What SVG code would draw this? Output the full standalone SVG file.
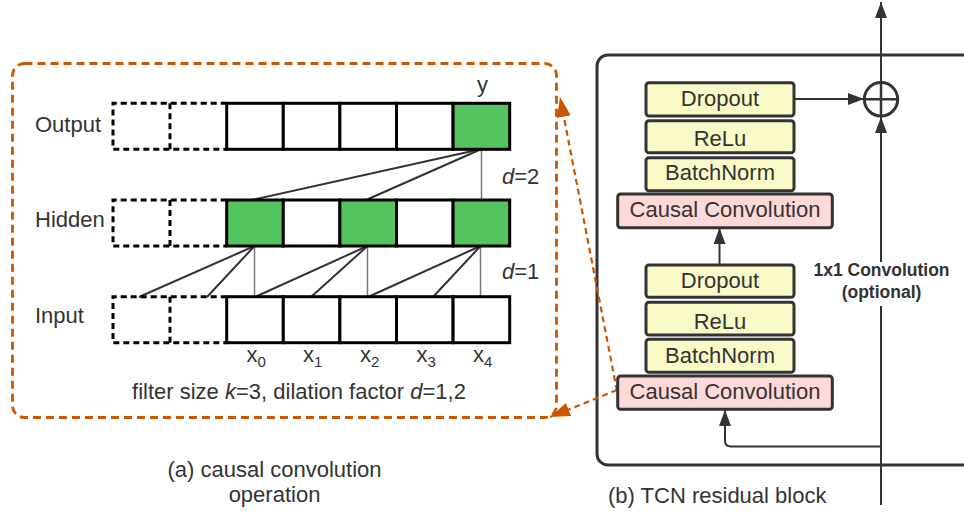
<svg xmlns="http://www.w3.org/2000/svg" width="964" height="515" viewBox="0 0 964 515">
<defs>
<style>
text{font-family:"Liberation Sans",Arial,sans-serif;font-size:22px;fill:#333}
.cell{fill:#fff;stroke:#000;stroke-width:3}
.g{fill:#54c45e}
.dash{fill:none;stroke:#000;stroke-width:3;stroke-dasharray:6,4}
.ln{stroke:#333;stroke-width:2;fill:none}
.vl{stroke:#777;stroke-width:1.5}
.yb{fill:#fafac8;stroke:#333;stroke-width:3}
.pb{fill:#ffd8d8;stroke:#333;stroke-width:3}
.ar{stroke:#333;stroke-width:2;fill:none}
.or{stroke:#cc5500;stroke-width:2.2;fill:none;stroke-dasharray:6,4}
.hd{fill:#333}
</style>
<marker id="ah" viewBox="0 0 16 12" refX="16" refY="6" markerWidth="16" markerHeight="12" markerUnits="userSpaceOnUse" orient="auto"><path d="M0,0 L16,6 L0,12 Z" class="hd"/></marker>
<marker id="oh" viewBox="0 0 20 14" refX="20" refY="7" markerWidth="20" markerHeight="14" markerUnits="userSpaceOnUse" orient="auto"><path d="M0,0 L20,7 L0,14 Z" fill="#cc5500"/></marker>
</defs>

<!-- (a) frame -->
<g id="frameA">
<rect x="12.5" y="63.5" width="544" height="354" rx="12" fill="none" stroke="#cc5500" stroke-width="2.8" stroke-dasharray="8,5"/>
</g>

<g id="labelsA">
<text x="35" y="132">Output</text>
<text x="35" y="227">Hidden</text>
<text x="35" y="323">Input</text>
<text x="477" y="92">y</text>
<text x="502" y="184"><tspan font-style="italic">d</tspan>=2</text>
<text x="502" y="279"><tspan font-style="italic">d</tspan>=1</text>
<text x="299" y="399" text-anchor="middle">filter size <tspan font-style="italic">k</tspan>=3, dilation factor <tspan font-style="italic">d</tspan>=1,2</text>
<text x="274.5" y="477" text-anchor="middle">(a) causal convolution</text>
<text x="274.5" y="502" text-anchor="middle">operation</text>
</g>

<g id="xlabels">
<text x="246.5" y="362">x<tspan font-size="15" dy="5">0</tspan></text>
<text x="303" y="362">x<tspan font-size="15" dy="5">1</tspan></text>
<text x="360" y="362">x<tspan font-size="15" dy="5">2</tspan></text>
<text x="416.5" y="362">x<tspan font-size="15" dy="5">3</tspan></text>
<text x="473" y="362">x<tspan font-size="15" dy="5">4</tspan></text>
</g>

<!-- connectors (a) -->
<g id="connectorsA">
<line class="vl" x1="481.5" y1="149" x2="481.5" y2="200"/>
<line class="ln" x1="481.5" y1="149" x2="252" y2="200"/>
<line class="ln" x1="481.5" y1="149" x2="366" y2="200"/>
<line class="vl" x1="254.5" y1="246" x2="254.5" y2="297"/>
<line class="ln" x1="254.5" y1="246" x2="139" y2="297"/>
<line class="ln" x1="254.5" y1="246" x2="207" y2="297"/>
<line class="vl" x1="367.5" y1="246" x2="367.5" y2="297"/>
<line class="ln" x1="367.5" y1="246" x2="255" y2="297"/>
<line class="ln" x1="367.5" y1="246" x2="311" y2="297"/>
<line class="vl" x1="480.5" y1="246" x2="480.5" y2="297"/>
<line class="ln" x1="480.5" y1="246" x2="368" y2="297"/>
<line class="ln" x1="480.5" y1="246" x2="433" y2="297"/>
</g>

<!-- rows -->
<g id="outputRow">
<path class="dash" d="M226.7,103.3 H113 V149.3 H226.7 M170,103.3 V149.3"/>
<rect class="cell" x="226.7" y="103.3" width="56.6" height="46"/>
<rect class="cell" x="283.3" y="103.3" width="56.6" height="46"/>
<rect class="cell" x="339.9" y="103.3" width="56.6" height="46"/>
<rect class="cell" x="396.5" y="103.3" width="56.6" height="46"/>
<rect class="cell g" x="453.1" y="103.3" width="56.6" height="46"/>
</g>
<g id="hiddenRow">
<path class="dash" d="M226.7,200 H113 V246 H226.7 M170,200 V246"/>
<rect class="cell g" x="226.7" y="200" width="56.6" height="46"/>
<rect class="cell" x="283.3" y="200" width="56.6" height="46"/>
<rect class="cell g" x="339.9" y="200" width="56.6" height="46"/>
<rect class="cell" x="396.5" y="200" width="56.6" height="46"/>
<rect class="cell g" x="453.1" y="200" width="56.6" height="46"/>
</g>
<g id="inputRow">
<path class="dash" d="M226.7,296.7 H113 V342.7 H226.7 M170,296.7 V342.7"/>
<rect class="cell" x="226.7" y="296.7" width="56.6" height="46"/>
<rect class="cell" x="283.3" y="296.7" width="56.6" height="46"/>
<rect class="cell" x="339.9" y="296.7" width="56.6" height="46"/>
<rect class="cell" x="396.5" y="296.7" width="56.6" height="46"/>
<rect class="cell" x="453.1" y="296.7" width="56.6" height="46"/>
</g>

<!-- (b) block -->
<g id="blockB">
<rect x="597" y="55" width="380" height="410" rx="11" fill="none" stroke="#333" stroke-width="3"/>
</g>

<g id="connectorsB">
<line class="ar" x1="881" y1="505" x2="881" y2="306"/>
<line class="ar" x1="881" y1="262" x2="881" y2="117" marker-end="url(#ah)"/>
<line class="ar" x1="881" y1="99" x2="881" y2="2" marker-end="url(#ah)"/>
<line class="ar" x1="794" y1="99" x2="864" y2="99" stroke-width="1.6" marker-end="url(#ah)"/>
<path class="ar" d="M881,446.5 H731 Q725,446.5 725,440.5 V410" marker-end="url(#ah)"/>
<line class="ar" x1="719.5" y1="265" x2="719.5" y2="228" marker-end="url(#ah)"/>
<line class="ar" x1="864" y1="99" x2="898" y2="99" stroke-width="2.5"/>
<line class="ar" x1="881" y1="82" x2="881" y2="116" stroke-width="2.5"/>
<path class="or" d="M617,391 L560,97" marker-end="url(#oh)"/>
<path class="or" d="M617,390 L550,417" marker-end="url(#oh)"/>
</g>

<g id="sum"><circle cx="881" cy="99.3" r="16.7" fill="none" stroke="#333" stroke-width="3"/><line x1="864.3" y1="99.3" x2="897.7" y2="99.3" stroke="#333" stroke-width="2.5"/><line x1="881" y1="82.6" x2="881" y2="116" stroke="#333" stroke-width="2.5"/></g>

<g id="dropout1"><rect class="yb" x="646" y="82.7" width="148" height="33.3" rx="3"/><text x="720" y="106" text-anchor="middle">Dropout</text></g>
<g id="relu1"><rect class="yb" x="646" y="120.7" width="148" height="32" rx="3"/><text x="720" y="146" text-anchor="middle">ReLu</text></g>
<g id="batchnorm1"><rect class="yb" x="646" y="157.7" width="148" height="33" rx="3"/><text x="720" y="180" text-anchor="middle">BatchNorm</text></g>
<g id="causal1"><rect class="pb" x="617.7" y="194" width="214.6" height="33.7" rx="3"/><text x="725" y="217" text-anchor="middle">Causal Convolution</text></g>

<g id="dropout2"><rect class="yb" x="646" y="265" width="148" height="32.3" rx="3"/><text x="720" y="288" text-anchor="middle">Dropout</text></g>
<g id="relu2"><rect class="yb" x="646" y="302.3" width="148" height="32.7" rx="3"/><text x="720" y="328.5" text-anchor="middle">ReLu</text></g>
<g id="batchnorm2"><rect class="yb" x="646" y="339.3" width="148" height="33" rx="3"/><text x="720" y="362.5" text-anchor="middle">BatchNorm</text></g>
<g id="causal2"><rect class="pb" x="617.7" y="376" width="214.6" height="33.3" rx="3"/><text x="725" y="398.5" text-anchor="middle">Causal Convolution</text></g>

<g id="labelsB">
<text x="881.5" y="276" text-anchor="middle" font-weight="bold" style="font-size:17.5px">1x1 Convolution</text>
<text x="881.5" y="297.5" text-anchor="middle" font-weight="bold" style="font-size:17.5px">(optional)</text>
<text x="608" y="503">(b) TCN residual block</text>
</g>
</svg>
